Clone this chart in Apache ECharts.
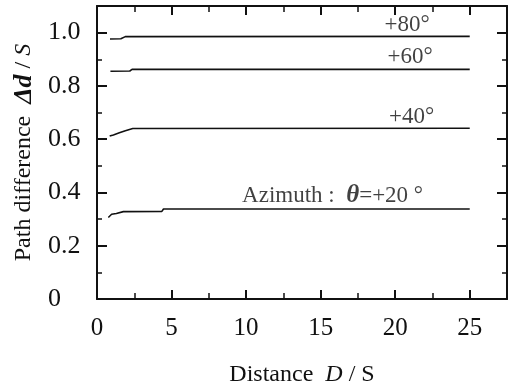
<!DOCTYPE html>
<html>
<head>
<meta charset="utf-8">
<script src="https://cdn.jsdelivr.net/npm/echarts@6/dist/echarts.min.js"></script>
<style>
html, body { margin: 0; padding: 0; background: #fff; }
#main { width: 515px; height: 388px; }
</style>
</head>
<body>
<div id="main"></div>
<script>
// path difference curves, [distance D/S, Δd/S]
var az80 = [[0.87, 0.976], [1.6, 0.977], [1.9, 0.985], [25, 0.986]];
var az60 = [[0.9, 0.855], [2.2, 0.856], [2.35, 0.862], [25, 0.862]];
var az40 = [[0.85, 0.612], [1.1, 0.616], [1.5, 0.624], [1.9, 0.632], [2.4, 0.640], [25, 0.641]];
var az20 = [[0.76, 0.306], [0.98, 0.318], [1.3, 0.321], [1.77, 0.328], [4.35, 0.329], [4.46, 0.338], [25, 0.338]];

var xTicks = [0, 5, 10, 15, 20, 25];
var yTicks = [0, 0.2, 0.4, 0.6, 0.8, 1.0];

// curve labels
var notes = [
    [20.8, 1.028, '+80°'],
    [21.0, 0.908, '+60°'],
    [21.1, 0.683, '+40°'],
    [15.8, 0.387, 'Azimuth :  {t|θ}=+20 °']
];

var FONT = '"Liberation Serif", "DejaVu Serif", serif';
var INK = '#111';

var chart = echarts.init(document.getElementById('main'));

function lineSeries(name, data) {
    return {
        name: name,
        type: 'line',
        data: data,
        showSymbol: false,
        symbol: 'none',
        lineStyle: { color: INK, width: 1.6 },
        silent: true,
        animation: false
    };
}

function xTick() { return { show: true, inside: true, length: 9, lineStyle: { color: INK, width: 2 } }; }
function xMinor() { return { show: true, splitNumber: 2, length: 6, lineStyle: { color: INK, width: 1.5 } }; }
function yTick() { return { show: true, inside: true, length: 10, lineStyle: { color: INK, width: 2 } }; }
function yMinor() { return { show: true, splitNumber: 2, length: 5, lineStyle: { color: INK, width: 1.5 } }; }

var option = {
    backgroundColor: '#fff',
    animation: false,
    grid: { left: 97, right: 8, top: 6, bottom: 89, outerBoundsMode: 'none', containLabel: false },
    xAxis: [{
        type: 'value',
        min: 0,
        max: 27.5,
        interval: 5,
        name: 'Distance  {i|D} / S',
        nameLocation: 'middle',
        nameGap: 64,
        nameTextStyle: {
            fontFamily: FONT, fontSize: 24, color: INK,
            rich: { i: { fontFamily: FONT, fontSize: 24, fontStyle: 'italic', color: INK } }
        },
        axisLine: { show: true, lineStyle: { color: INK, width: 2 } },
        axisTick: xTick(),
        minorTick: xMinor(),
        splitLine: { show: false },
        axisLabel: {
            fontFamily: FONT, fontSize: 25, color: INK, margin: 17,
            formatter: function (v) { return xTicks.indexOf(v) >= 0 ? String(v) : ''; }
        }
    }, {
        // top frame, sits on the zero of the inverted helper y axis
        type: 'value',
        position: 'top',
        min: 0,
        max: 27.5,
        interval: 5,
        axisLine: { show: true, onZeroAxisIndex: 2, lineStyle: { color: INK, width: 2 } },
        axisTick: xTick(),
        minorTick: xMinor(),
        splitLine: { show: false },
        axisLabel: { show: false }
    }, {
        // helper: zero at the right edge
        type: 'value',
        min: 0,
        max: 27.5,
        inverse: true,
        show: false
    }],
    yAxis: [{
        type: 'value',
        min: 0,
        max: 1.1,
        interval: 0.2,
        name: 'Path difference  {b|Δd} / {i|S}',
        nameLocation: 'middle',
        nameGap: 60,
        nameRotate: 90,
        nameTextStyle: {
            fontFamily: FONT, fontSize: 24, color: INK,
            rich: {
                b: { fontFamily: FONT, fontSize: 26, fontStyle: 'italic', fontWeight: 'bold', color: INK },
                i: { fontFamily: FONT, fontSize: 24, fontStyle: 'italic', color: INK }
            }
        },
        axisLine: { show: true, lineStyle: { color: INK, width: 2 } },
        axisTick: yTick(),
        minorTick: yMinor(),
        splitLine: { show: false },
        axisLabel: {
            fontFamily: FONT, fontSize: 26, color: INK, margin: 49, align: 'left',
            padding: [10, 0, 0, 0],
            formatter: function (v) {
                return yTicks.indexOf(v) >= 0 ? (v === 0 ? '0' : v.toFixed(1)) : '';
            }
        }
    }, {
        // right frame, sits on the zero of the inverted helper x axis
        type: 'value',
        position: 'right',
        min: 0,
        max: 1.1,
        interval: 0.2,
        axisLine: { show: true, onZeroAxisIndex: 2, lineStyle: { color: INK, width: 2 } },
        axisTick: yTick(),
        minorTick: yMinor(),
        splitLine: { show: false },
        axisLabel: { show: false }
    }, {
        // helper: zero at the top edge
        type: 'value',
        min: 0,
        max: 1.1,
        inverse: true,
        show: false
    }],
    series: [
        lineSeries('+80°', az80),
        lineSeries('+60°', az60),
        lineSeries('+40°', az40),
        lineSeries('+20°', az20),
        {
            type: 'scatter',
            data: notes,
            symbolSize: 0,
            silent: true,
            label: {
                show: true,
                position: 'inside',
                fontFamily: FONT,
                fontSize: 23,
                color: INK,
                formatter: function (p) { return p.data[2]; },
                rich: { t: { fontFamily: FONT, fontSize: 25, fontStyle: 'italic', fontWeight: 'bold', color: INK } }
            }
        }
    ]
};

chart.setOption(option);
</script>
</body>
</html>
